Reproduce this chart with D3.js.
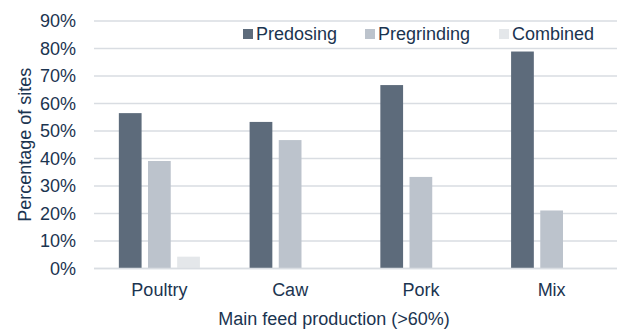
<!DOCTYPE html>
<html>
<head>
<meta charset="utf-8">
<script src="https://cdn.jsdelivr.net/npm/d3@7"></script>
<style>
  html, body { margin: 0; padding: 0; background: #fff; }
  svg { display: block; font-family: "Liberation Sans", Arial, sans-serif; }
</style>
</head>
<body>
<svg id="chart" width="620" height="329"></svg>
<script>
// Share of sites by main feed production type and dosing method
const categories = ["Poultry", "Caw", "Pork", "Mix"];
const seriesNames = ["Predosing", "Pregrinding", "Combined"];
const predosing   = [56.5, 53.3, 66.7, 78.9];
const pregrinding = [39.1, 46.7, 33.3, 21.1];
const combined    = [4.3, 0, 0, 0];
const yTicks = [0, 10, 20, 30, 40, 50, 60, 70, 80, 90];

const colors = ["#5d6b7b", "#bcc3cc", "#e4e7ea"];
const textColor = "#1b3450";
const gridColor = "#d9dde2";
const fontSize = "18px";

const svg = d3.select("#chart");
const margin = { left: 94, right: 3, top: 21, bottom: 61 };
const W = 620, H = 329;

const x = d3.scaleBand()
  .domain(categories)
  .range([margin.left, W - margin.right])
  .paddingInner(0.38)
  .paddingOuter(0.19);

const xs = d3.scaleBand()
  .domain(seriesNames)
  .range([0, x.bandwidth()])
  .paddingInner(0.22);

const y = d3.scaleLinear()
  .domain([0, 90])
  .range([H - margin.bottom + 0.5, margin.top]);

// gridlines
svg.append("g")
  .selectAll("line")
  .data(yTicks)
  .join("line")
  .attr("x1", margin.left)
  .attr("x2", W - margin.right)
  .attr("y1", d => y(d))
  .attr("y2", d => y(d))
  .attr("stroke", gridColor)
  .attr("stroke-width", 1.5);

// y axis
const yAxis = svg.append("g")
  .attr("transform", `translate(${margin.left},0)`)
  .call(d3.axisLeft(y).tickValues(yTicks).tickFormat(d => d + "%").tickSize(0).tickPadding(18));
yAxis.select(".domain").remove();
yAxis.selectAll("text")
  .attr("fill", textColor)
  .style("font-size", fontSize);

// bars
const data = categories.map((c, i) => ({
  cat: c,
  vals: [predosing[i], pregrinding[i], combined[i]]
}));

const groups = svg.append("g")
  .selectAll("g")
  .data(data)
  .join("g")
  .attr("transform", d => `translate(${x(d.cat)},0)`);

groups.selectAll("rect")
  .data(d => d.vals.map((v, j) => ({ key: seriesNames[j], v, j })))
  .join("rect")
  .attr("x", d => xs(d.key))
  .attr("width", xs.bandwidth())
  .attr("y", d => y(d.v))
  .attr("height", d => y(0) - y(d.v))
  .attr("fill", d => colors[d.j]);

// baseline redrawn over bars
svg.append("line")
  .attr("x1", margin.left)
  .attr("x2", W - margin.right)
  .attr("y1", y(0))
  .attr("y2", y(0))
  .attr("stroke", gridColor)
  .attr("stroke-width", 1.5);

// x axis
const xAxis = svg.append("g")
  .attr("transform", `translate(0,${y(0)})`)
  .call(d3.axisBottom(x).tickSize(0).tickPadding(15));
xAxis.select(".domain").remove();
xAxis.selectAll("text")
  .attr("fill", textColor)
  .style("font-size", fontSize);

// axis titles
svg.append("text")
  .attr("x", 334)
  .attr("y", 325)
  .attr("text-anchor", "middle")
  .attr("fill", textColor)
  .style("font-size", fontSize)
  .text("Main feed production (>60%)");

svg.append("text")
  .attr("transform", `translate(31,${(y(0) + y(90)) / 2}) rotate(-90)`)
  .attr("text-anchor", "middle")
  .attr("fill", textColor)
  .style("font-size", fontSize)
  .text("Percentage of sites");

// legend
const legendX = [243, 365, 499];
const legend = svg.append("g")
  .selectAll("g")
  .data(seriesNames)
  .join("g")
  .attr("transform", (d, i) => `translate(${legendX[i]},29)`);
legend.append("rect")
  .attr("width", 10)
  .attr("height", 10)
  .attr("fill", (d, i) => colors[i]);
legend.append("text")
  .attr("x", 13)
  .attr("y", 11)
  .attr("fill", textColor)
  .style("font-size", fontSize)
  .text(d => d);
</script>
</body>
</html>
